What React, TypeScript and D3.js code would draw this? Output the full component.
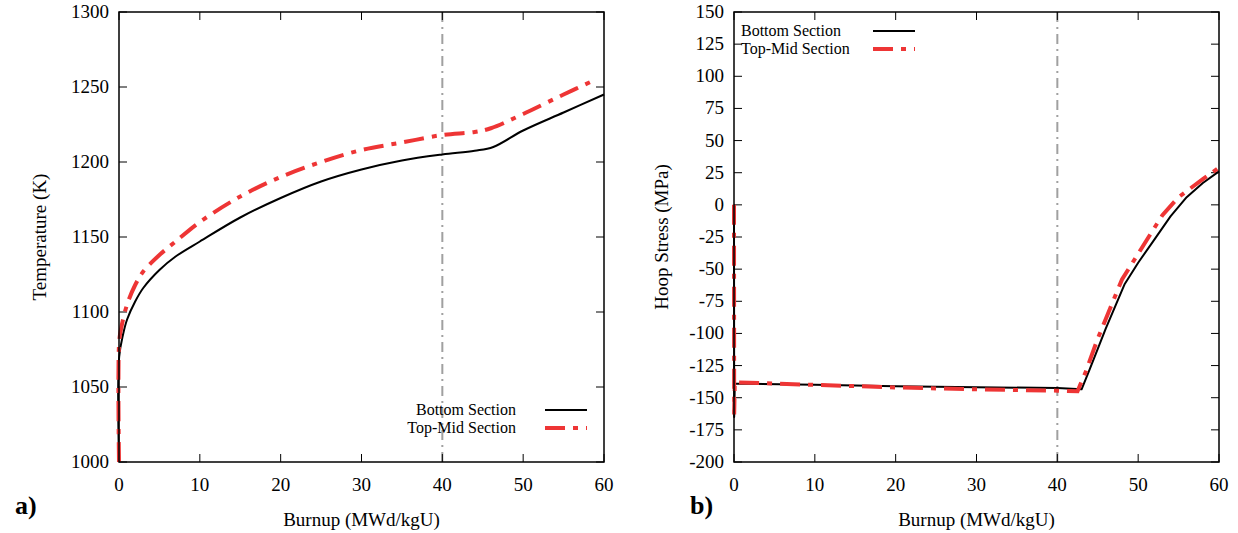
import React from "react";
import * as d3 from "d3";

const xTicks = [0, 10, 20, 30, 40, 50, 60];
const tempTicks = [1000, 1050, 1100, 1150, 1200, 1250, 1300];
const stressTicks = [-200, -175, -150, -125, -100, -75, -50, -25, 0, 25, 50, 75, 100, 125, 150];

const tempBottomX = [0, 0.02, 0.5, 1, 2, 3, 5, 7, 10, 15, 20, 25, 30, 35, 40, 44, 46.3, 50, 55, 60];
const tempBottomY = [1000, 1070, 1085, 1095, 1107, 1116, 1128, 1137, 1147, 1163, 1176, 1187, 1195, 1201, 1205, 1207.5, 1210, 1221, 1233, 1245];
const tempTopX = [0, 0.02, 0.3, 1, 2, 3, 5, 7, 10, 15, 20, 25, 30, 35, 40, 44, 46, 50, 55, 59];
const tempTopY = [1000, 1080, 1090, 1105, 1118, 1127, 1138, 1147, 1160, 1177, 1190, 1200, 1208, 1213, 1218, 1220, 1222.5, 1232, 1245, 1255];

const stressBottomX = [0, 0.02, 0.1, 10, 20, 30, 40, 43, 44, 46, 48.3, 50, 52, 54, 56, 58, 60];
const stressBottomY = [0, -165, -139, -140, -141, -141.8, -142.5, -143.5, -128, -96, -62, -45, -27, -9, 6, 17, 26];
const stressTopX = [0, 0.02, 0.1, 10, 20, 30, 40, 42.5, 43.5, 45, 48, 50, 53, 55, 58, 60];
const stressTopY = [0, -163, -138, -140, -142, -143.5, -144.5, -145, -130, -104, -58, -38, -8, 6, 20, 29];

const FONT = "'Liberation Serif', 'Times New Roman', Times, 'DejaVu Serif', serif";
const RED = "#ee3535";

type PanelProps = {
  left: number; right: number; top: number; bottom: number;
  yDomain: [number, number]; yTicks: number[]; yLabel: string; letter: string; letterX: number;
  blackX: number[]; blackY: number[]; redX: number[]; redY: number[];
  legend: { x: number; y: number; anchor: "start" | "end"; lineX1: number; lineX2: number };
  labelX: number; smooth: boolean;
};

const txt = { fontFamily: FONT } as React.CSSProperties;

function Panel(p: PanelProps) {
  const x = d3.scaleLinear().domain([0, 60]).range([p.left, p.right]);
  const y = d3.scaleLinear().domain(p.yDomain).range([p.bottom, p.top]);
  const line = d3.line<[number, number]>().x((d) => x(d[0])).y((d) => y(d[1]))
    .curve(p.smooth ? d3.curveCatmullRom.alpha(0.5) : d3.curveLinear);
  const black = p.blackX.map((v, i) => [v, p.blackY[i]] as [number, number]);
  const red = p.redX.map((v, i) => [v, p.redY[i]] as [number, number]);
  const tl = 8;
  return (
    <g>
      <line x1={x(40)} x2={x(40)} y1={p.top} y2={p.bottom} stroke="#a0a0a0" strokeWidth={2} strokeDasharray="10,5,2,5" />
      {xTicks.map((t) => (
        <g key={"x" + t}>
          <line x1={x(t)} x2={x(t)} y1={p.bottom} y2={p.bottom - tl} stroke="#000" strokeWidth={1} />
          <line x1={x(t)} x2={x(t)} y1={p.top} y2={p.top + tl} stroke="#000" strokeWidth={1} />
          <text x={x(t)} y={p.bottom + 29} textAnchor="middle" style={txt} fontSize={19}>{t}</text>
        </g>
      ))}
      {p.yTicks.map((t) => (
        <g key={"y" + t}>
          <line x1={p.left} x2={p.left + tl} y1={y(t)} y2={y(t)} stroke="#000" strokeWidth={1} />
          <line x1={p.right} x2={p.right - tl} y1={y(t)} y2={y(t)} stroke="#000" strokeWidth={1} />
          <text x={p.left - 10} y={y(t) + 6} textAnchor="end" style={txt} fontSize={19}>{t}</text>
        </g>
      ))}
      <path d={line(black) || ""} fill="none" stroke="#000" strokeWidth={2} strokeLinejoin="round" />
      <path d={line(red) || ""} fill="none" stroke={RED} strokeWidth={4} strokeDasharray="20,8,5,8" />
      <rect x={p.left} y={p.top} width={p.right - p.left} height={p.bottom - p.top} fill="none" stroke="#000" strokeWidth={1.5} />
      <text x={p.legend.x} y={p.legend.y + 5} textAnchor={p.legend.anchor} style={txt} fontSize={16}>Bottom Section</text>
      <line x1={p.legend.lineX1} x2={p.legend.lineX2} y1={p.legend.y} y2={p.legend.y} stroke="#000" strokeWidth={2} />
      <text x={p.legend.x} y={p.legend.y + 23} textAnchor={p.legend.anchor} style={txt} fontSize={16}>Top-Mid Section</text>
      <line x1={p.legend.lineX1} x2={p.legend.lineX2} y1={p.legend.y + 18} y2={p.legend.y + 18} stroke={RED} strokeWidth={4} strokeDasharray="20,8,5,8" />
      <text x={(p.left + p.right) / 2} y={p.bottom + 64} textAnchor="middle" style={txt} fontSize={19}>Burnup (MWd/kgU)</text>
      <text transform={`translate(${p.labelX},${(p.top + p.bottom) / 2}) rotate(-90)`} textAnchor="middle" style={txt} fontSize={19}>{p.yLabel}</text>
      <text x={p.letterX} y={p.bottom + 52} style={txt} fontSize={26} fontWeight="bold">{p.letter}</text>
    </g>
  );
}

export default function App() {
  return (
    <svg width={1238} height={533} style={{ position: "absolute", left: 0, top: 0, background: "#fff" }}>
      <rect width={1238} height={533} fill="#fff" />
      <Panel left={119} right={604} top={12} bottom={462} yDomain={[1000, 1300]} yTicks={tempTicks}
        yLabel="Temperature (K)" letter="a)" letterX={15} blackX={tempBottomX} blackY={tempBottomY} redX={tempTopX} redY={tempTopY}
        legend={{ x: 516, y: 410, anchor: "end", lineX1: 545, lineX2: 587 }} labelX={46} smooth={true} />
      <Panel left={734} right={1219} top={12} bottom={462} yDomain={[-200, 150]} yTicks={stressTicks}
        yLabel="Hoop Stress (MPa)" letter="b)" letterX={690} blackX={stressBottomX} blackY={stressBottomY} redX={stressTopX} redY={stressTopY}
        legend={{ x: 741, y: 31, anchor: "start", lineX1: 873, lineX2: 915 }} labelX={668} smooth={false} />
    </svg>
  );
}
